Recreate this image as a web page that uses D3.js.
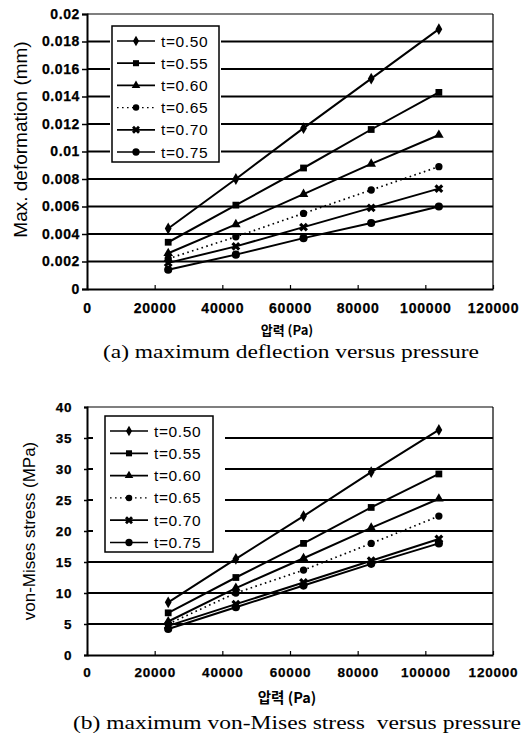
<!DOCTYPE html>
<html>
<head>
<meta charset="utf-8">
<script src="https://cdn.jsdelivr.net/npm/d3@7"></script>
<style>
  html, body { margin: 0; padding: 0; background: #fff; }
  svg { display: block; }
  .tick text { font-family: "Liberation Sans", Arial, sans-serif; font-weight: bold; fill: #000; stroke: #000; stroke-width: 0.25px; }
</style>
</head>
<body>
<svg id="fig" width="529" height="735"></svg>
<script>
// Pressure levels at which each plate thickness was evaluated
const pressure = [24000, 44000, 64000, 84000, 104000];
const thicknessLabels = ["t=0.50", "t=0.55", "t=0.60", "t=0.65", "t=0.70", "t=0.75"];

// (a) maximum deflection, mm
const deflT050 = [0.0044, 0.0080, 0.0117, 0.0153, 0.0189];
const deflT055 = [0.0034, 0.0061, 0.0088, 0.0116, 0.0143];
const deflT060 = [0.0026, 0.0047, 0.0069, 0.0091, 0.0112];
const deflT065 = [0.0022, 0.0038, 0.0055, 0.0072, 0.0089];
const deflT070 = [0.0019, 0.0031, 0.0045, 0.0059, 0.0073];
const deflT075 = [0.0014, 0.0025, 0.0037, 0.0048, 0.0060];

// (b) maximum von-Mises stress, MPa
const stressT050 = [8.5, 15.5, 22.4, 29.5, 36.3];
const stressT055 = [6.8, 12.5, 18.0, 23.8, 29.2];
const stressT060 = [5.4, 10.8, 15.6, 20.5, 25.2];
const stressT065 = [5.0, 10.0, 13.7, 18.0, 22.4];
const stressT070 = [4.7, 8.2, 11.7, 15.2, 18.7];
const stressT075 = [4.2, 7.7, 11.2, 14.7, 18.0];

// Axis ticks
const xTicks = [0, 20000, 40000, 60000, 80000, 100000, 120000];
const deflTicks = [0, 0.002, 0.004, 0.006, 0.008, 0.01, 0.012, 0.014, 0.016, 0.018, 0.02];
const stressTicks = [0, 5, 10, 15, 20, 25, 30, 35, 40];

// Marker shape and line style per thickness
const markerStyles = [
  { type: d3.symbolDiamond, size: 40, dash: null, rot: 0 },
  { type: d3.symbolSquare, size: 46, dash: null, rot: 0 },
  { type: d3.symbolTriangle, size: 40, dash: null, rot: 0 },
  { type: d3.symbolCircle, size: 42, dash: "1.6,3.4", rot: 0 },
  { type: d3.symbolCross, size: 50, dash: null, rot: 45 },
  { type: d3.symbolCircle, size: 52, dash: null, rot: 0 }
];

const svg = d3.select("#fig");
const sans = '"Liberation Sans", Arial, sans-serif';

function drawPanel(p) {
  const x = d3.scaleLinear().domain([0, 120000]).range([p.left, p.right]);
  const y = d3.scaleLinear().domain([0, p.yMax]).range([p.bottom, p.top]);
  const g = svg.append("g");

  // horizontal gridlines
  g.append("g")
    .selectAll("line")
    .data(p.yTicks.filter(v => v > 0 && v < p.yMax))
    .join("line")
    .attr("x1", p.left).attr("x2", p.right)
    .attr("y1", d => y(d)).attr("y2", d => y(d))
    .attr("stroke", "#000").attr("stroke-width", 2);

  // plot frame: top and right thin, left and bottom heavier
  g.append("line").attr("x1", p.left).attr("x2", p.right)
    .attr("y1", p.top).attr("y2", p.top).attr("stroke", "#000").attr("stroke-width", 1.2);
  g.append("line").attr("x1", p.right).attr("x2", p.right)
    .attr("y1", p.top).attr("y2", p.bottom).attr("stroke", "#000").attr("stroke-width", 1.2);

  // y axis
  const yAxis = g.append("g").attr("transform", `translate(${p.left},0)`)
    .call(d3.axisLeft(y).tickValues(p.yTicks).tickFormat(p.yFormat)
      .tickSize(p.yTickLen).tickPadding(p.yPad));
  yAxis.select(".domain").attr("stroke-width", 2);
  yAxis.selectAll(".tick line").attr("stroke-width", 1.5);
  yAxis.selectAll(".tick text").style("font-size", p.tickFont + "px")
    .style("letter-spacing", "0.6px");

  // x axis with small inward ticks
  const xAxis = g.append("g").attr("transform", `translate(0,${p.bottom})`)
    .call(d3.axisBottom(x).tickValues(xTicks).tickFormat(d3.format("d"))
      .tickSizeInner(-4).tickSizeOuter(0).tickPadding(p.xPad));
  xAxis.select(".domain").attr("stroke-width", 2);
  xAxis.selectAll(".tick line").attr("stroke-width", 1.2);
  xAxis.selectAll(".tick text").style("font-size", p.tickFont + "px")
    .style("letter-spacing", "0.8px");

  // series
  const line = d3.line().x((d, i) => x(pressure[i])).y(d => y(d));
  p.series.forEach((vals, k) => {
    const st = markerStyles[k];
    g.append("path").datum(vals)
      .attr("d", line)
      .attr("fill", "none").attr("stroke", "#000")
      .attr("stroke-width", st.dash ? 1.7 : 2)
      .attr("stroke-dasharray", st.dash);
    g.append("g").selectAll("path")
      .data(vals)
      .join("path")
      .attr("d", d3.symbol().type(st.type).size(st.size))
      .attr("transform", (d, i) => `translate(${x(pressure[i])},${y(d)}) rotate(${st.rot})`)
      .attr("fill", "#000");
  });

  // legend
  const lg = g.append("g");
  lg.append("rect")
    .attr("x", p.legend.x - p.legend.pad).attr("y", p.legend.y - 2)
    .attr("width", p.legend.w + 2 * p.legend.pad).attr("height", p.legend.h + 4)
    .attr("fill", "#fff");
  lg.append("rect")
    .attr("x", p.legend.x).attr("y", p.legend.y)
    .attr("width", p.legend.w).attr("height", p.legend.h)
    .attr("fill", "#fff").attr("stroke", "#000").attr("stroke-width", 1.5);
  thicknessLabels.forEach((lab, k) => {
    const st = markerStyles[k];
    const cy = p.legend.y + p.legend.first + k * p.legend.step;
    const x0 = p.legend.x + 5, x1 = p.legend.x + 43;
    lg.append("line").attr("x1", x0).attr("x2", x1).attr("y1", cy).attr("y2", cy)
      .attr("stroke", "#000").attr("stroke-width", st.dash ? 1.4 : 1.7)
      .attr("stroke-dasharray", st.dash);
    lg.append("path")
      .attr("d", d3.symbol().type(st.type).size(st.size * 0.8))
      .attr("transform", `translate(${(x0 + x1) / 2},${cy}) rotate(${st.rot})`)
      .attr("fill", "#000");
    lg.append("text").attr("x", p.legend.x + 49).attr("y", cy)
      .attr("dy", "0.36em")
      .style("font-family", sans).style("font-size", "15.5px")
      .style("letter-spacing", "0.6px")
      .text(lab);
  });

  // y-axis title
  svg.append("text")
    .attr("transform", `translate(${p.yTitleX},${(p.top + p.bottom) / 2 + p.yTitleShift}) rotate(-90)`)
    .attr("text-anchor", "middle")
    .style("font-family", sans).style("font-size", p.yTitleFont + "px")
    .text(p.yTitle);

  // x-axis title
  svg.append("text")
    .attr("x", (p.left + p.right) / 2 - 3).attr("y", p.xTitleY)
    .attr("text-anchor", "middle")
    .style("font-family", '"Noto Sans CJK KR", "Liberation Sans", sans-serif')
    .style("font-weight", "bold").style("font-size", p.xTitleFont + "px")
    .text("압력 (Pa)");

  // caption
  svg.append("text")
    .attr("x", p.captionX).attr("y", p.captionY)
    .attr("text-anchor", "middle")
    .attr("textLength", p.captionLen).attr("lengthAdjust", "spacingAndGlyphs")
    .style("font-family", '"Liberation Serif", "Times New Roman", serif')
    .style("font-size", "19px")
    .attr("xml:space", "preserve")
    .text(p.caption);
}

drawPanel({
  left: 87, right: 493, top: 14, bottom: 289,
  yMax: 0.02, yTicks: deflTicks,
  yFormat: d => d === 0 ? "0" : String(+d.toFixed(3)),
  yTickLen: 5, yPad: 2, xPad: 14, tickFont: 14,
  series: [deflT050, deflT055, deflT060, deflT065, deflT070, deflT075],
  legend: { x: 112, y: 26, w: 107, h: 136, first: 15, step: 22.2, pad: 2 },
  yTitle: "Max. deformation (mm)", yTitleX: 27, yTitleShift: -12, yTitleFont: 19,
  xTitleY: 335, xTitleFont: 13,
  caption: "(a) maximum deflection versus pressure", captionX: 291, captionY: 358, captionLen: 376
});

drawPanel({
  left: 87, right: 493, top: 407, bottom: 655,
  yMax: 40, yTicks: stressTicks,
  yFormat: d3.format("d"),
  yTickLen: 3, yPad: 12, xPad: 12, tickFont: 13.5,
  series: [stressT050, stressT055, stressT060, stressT065, stressT070, stressT075],
  legend: { x: 105, y: 416, w: 108, h: 136, first: 15, step: 22.3, pad: 12 },
  yTitle: "von-Mises stress (MPa)", yTitleX: 35, yTitleShift: 0, yTitleFont: 17,
  xTitleY: 703, xTitleFont: 14.5,
  caption: "(b) maximum von-Mises stress  versus pressure", captionX: 297, captionY: 729, captionLen: 448
});
</script>
</body>
</html>
